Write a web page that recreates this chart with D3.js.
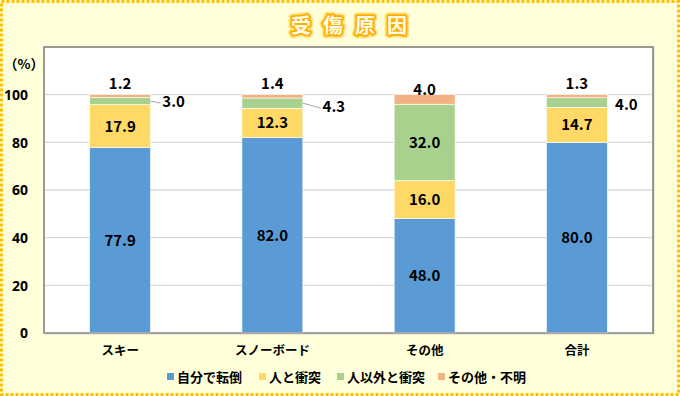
<!DOCTYPE html>
<html><head><meta charset="utf-8">
<script src="https://cdn.jsdelivr.net/npm/d3@7"></script>
<style>
html,body{margin:0;padding:0;background:#fff;}
svg{display:block;}
text{font-family:"Noto Sans CJK JP","Noto Sans",sans-serif;font-weight:bold;}
.num{font-family:"Noto Sans","Noto Sans CJK JP",sans-serif;font-weight:bold;}
</style></head>
<body>
<svg id="chart" width="680" height="396"></svg>
<script>
const categories = ["スキー","スノーボード","その他","合計"];
const seriesNames = ["自分で転倒","人と衝突","人以外と衝突","その他・不明"];
const selfFall = [77.9, 82.0, 48.0, 80.0];
const personHit = [17.9, 12.3, 16.0, 14.7];
const objectHit = [3.0, 4.3, 32.0, 4.0];
const otherUnknown = [1.2, 1.4, 4.0, 1.3];
const yTicks = [0, 20, 40, 60, 80, 100];
const colors = ["#5b9bd5","#ffd966","#a9d18e","#f4b183"];

const series = [selfFall, personHit, objectHit, otherUnknown];
const rows = categories.map((c,i)=>{
  const r = {cat:c};
  seriesNames.forEach((s,j)=>r[s]=series[j][i]);
  return r;
});

const svg = d3.select("#chart");
const W = 680, H = 396;
svg.append("rect").attr("x",0).attr("y",0).attr("width",W).attr("height",H).attr("fill","#ffffd9");
svg.append("rect").attr("x",1.5).attr("y",1.5).attr("width",W-3).attr("height",H-3)
  .attr("fill","none").attr("stroke","#ffc000").attr("stroke-width",3).attr("stroke-dasharray","3,2");

// title
const gT = svg.append("g");
const tAttrs = t => t.attr("x",355).attr("y",33).attr("text-anchor","middle")
  .attr("font-size",20).attr("letter-spacing","12px").text("受傷原因");
tAttrs(gT.append("text")).attr("fill","none").attr("stroke","#ffe27a").attr("stroke-width",7).attr("stroke-linejoin","round");
tAttrs(gT.append("text")).attr("fill","none").attr("stroke","#ffac00").attr("stroke-width",3.6).attr("stroke-linejoin","round");
tAttrs(gT.append("text")).attr("fill","#fffce8");

const m = {l:44, r:653, t:47, b:333};
svg.append("rect").attr("x",m.l+1.5).attr("y",m.t+1.5).attr("width",m.r-m.l).attr("height",m.b-m.t)
  .attr("fill","#d8d8c8");
svg.append("rect").attr("x",m.l).attr("y",m.t).attr("width",m.r-m.l).attr("height",m.b-m.t)
  .attr("fill","#fff").attr("stroke","#7a7a7a").attr("stroke-width",1.5);

const x = d3.scaleBand().domain(categories).range([m.l,m.r]).paddingInner(0.6).paddingOuter(0.3);
const y = d3.scaleLinear().domain([0,120]).range([m.b,m.t]);

svg.append("g").selectAll("line").data(yTicks.filter(t=>t>0)).join("line")
  .attr("x1",m.l+1).attr("x2",m.r-1).attr("y1",d=>y(d)).attr("y2",d=>y(d))
  .attr("stroke","#d9d9d9").attr("stroke-width",1.3);

const yAxis = d3.axisLeft(y).tickValues(yTicks).tickSize(0).tickPadding(0);
const gy = svg.append("g").attr("transform",`translate(28,0)`).call(yAxis);
gy.select(".domain").remove();
gy.selectAll("text").attr("class","num").attr("font-size",14).attr("fill","#000").attr("dy","0.35em");
svg.append("text").attr("x",24).attr("y",69).attr("text-anchor","middle").attr("font-size",13.5).text("（%）");

const stack = d3.stack().keys(seriesNames)(rows);
const gBars = svg.append("g");
stack.forEach((layer,j)=>{
  gBars.append("g").selectAll("rect").data(layer).join("rect")
    .attr("x",d=>x(d.data.cat)).attr("width",x.bandwidth())
    .attr("y",d=>y(d[1])).attr("height",d=>y(d[0])-y(d[1]))
    .attr("fill",colors[j]).attr("stroke","#ffffff").attr("stroke-width",0.6);
});

svg.append("line").attr("x1",m.l).attr("x2",m.r).attr("y1",m.b).attr("y2",m.b).attr("stroke","#a6a6a6").attr("stroke-width",1.5);

const gl = svg.append("g").attr("class","num").attr("font-size",15).attr("text-anchor","middle");
stack.forEach((layer,j)=>{
  layer.forEach(d=>{
    const v = d[1]-d[0];
    if (v >= 10) {
      gl.append("text").attr("x",x(d.data.cat)+x.bandwidth()/2).attr("y",(y(d[0])+y(d[1]))/2+5.5)
        .text(v.toFixed(1));
    }
  });
});
stack[3].forEach(d=>{
  const v = d[1]-d[0];
  gl.append("text").attr("x",x(d.data.cat)+x.bandwidth()/2)
    .attr("y", y(d[1]) - (v>=3 ? 0 : 6))
    .text(v.toFixed(1));
});
const offsets = [{dx:23,dy:6,leader:true},{dx:31,dy:9,leader:true},null,{dx:19,dy:7,leader:false}];
stack[2].forEach((d,i)=>{
  const v = d[1]-d[0];
  if (v >= 10) return;
  const o = offsets[i];
  const right = x(d.data.cat)+x.bandwidth();
  const cy = (y(d[0])+y(d[1]))/2;
  const tx = right + o.dx;
  if (o.leader) {
    svg.append("line").attr("x1",right).attr("y1",cy).attr("x2",tx-13).attr("y2",cy+o.dy-4)
      .attr("stroke","#a6a6a6").attr("stroke-width",1);
  }
  gl.append("text").attr("x",tx).attr("y",cy+o.dy).text(v.toFixed(1));
});

const xAxis = d3.axisBottom(x).tickSize(0).tickPadding(0);
const gx = svg.append("g").attr("transform",`translate(0,${m.b+22})`).call(xAxis);
gx.select(".domain").remove();
gx.selectAll("text").attr("font-size",12.5).attr("fill","#000").attr("font-family",'"Noto Sans CJK JP",sans-serif').attr("font-weight","bold").attr("dy",0);

const legX = [167, 259, 337, 438];
const gLeg = svg.append("g");
seriesNames.forEach((s,i)=>{
  gLeg.append("rect").attr("x",legX[i]).attr("y",373).attr("width",7).attr("height",7).attr("fill",colors[i]);
  gLeg.append("text").attr("x",legX[i]+10).attr("y",382).attr("font-size",13).text(s);
});
</script>
</body></html>
